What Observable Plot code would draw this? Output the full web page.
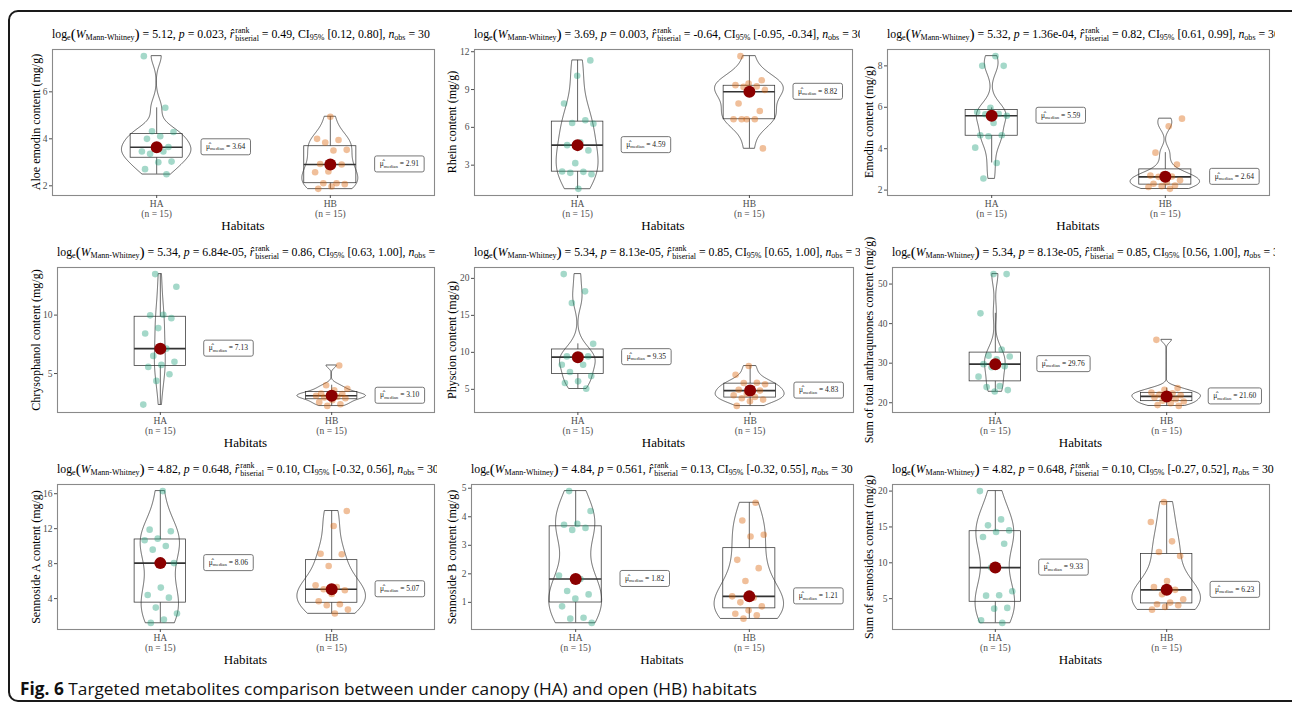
<!DOCTYPE html>
<html>
<head>
<meta charset="utf-8">
<script src="https://cdn.jsdelivr.net/npm/d3@7"></script>
<script src="https://cdn.jsdelivr.net/npm/@observablehq/plot@0.6"></script>
<style>
  html, body { margin: 0; padding: 0; background: #fff; }
  body { width: 1292px; height: 706px; position: relative; overflow: hidden; font-family: "Liberation Serif", serif; }
  #frame { position: absolute; left: 8px; top: 10px; width: 1300px; height: 692px; border: 2px solid #1a1a1a; border-radius: 10px; box-sizing: border-box; }
  .cell { position: absolute; }
  .title { position: absolute; white-space: nowrap; overflow: hidden; font-size: 11.8px; line-height: 22px; height: 24px; color: #000; }
  .title sub { font-size: 0.68em; vertical-align: -0.25em; line-height: 0; }
  .title .par { font-size: 1.3em; vertical-align: -0.05em; }
  .title .ss { display: inline-flex; flex-direction: column; vertical-align: middle; font-size: 0.68em; line-height: 1.0; margin-left: 1px; position: relative; top: -1px; }
  .ylab { position: absolute; white-space: nowrap; font-size: 12px; transform: translate(-50%, -50%) rotate(-90deg); }
  .xlab { position: absolute; white-space: nowrap; font-size: 13px; transform: translate(-50%, -50%); }
  #caption { position: absolute; left: 20px; top: 677px; font-family: "Open Sans", sans-serif; font-size: 17px; white-space: nowrap; color: #111; transform-origin: left center; }
</style>
</head>
<body>
<div id="frame"></div>
<div id="root"></div>
<div id="caption"><b>Fig. 6</b> Targeted metabolites comparison between under canopy (HA) and open (HB) habitats</div>
<script>
// ---- data (mg/g) ----
const groups = ["HA", "HB"];

const aloeHA  = [7.52, 5.32, 4.32, 4.29, 4.11, 4.00, 3.65, 3.64, 3.46, 3.46, 3.36, 3.03, 3.00, 2.71, 2.49];
const aloeHB  = [4.94, 4.00, 3.95, 3.84, 3.53, 3.50, 2.93, 2.91, 2.61, 2.58, 2.11, 2.11, 2.07, 1.97, 1.87];
const rheinHA = [11.31, 10.09, 7.89, 6.56, 6.35, 6.29, 4.81, 4.59, 4.17, 3.16, 2.50, 2.47, 2.39, 2.28, 1.12];
const rheinHB = [11.65, 9.74, 9.48, 9.35, 9.25, 9.21, 8.97, 8.82, 7.89, 7.30, 6.64, 6.64, 6.64, 6.64, 4.33];
const emodinHA = [8.47, 8.00, 8.00, 5.97, 5.77, 5.69, 5.66, 5.59, 5.24, 4.65, 4.65, 4.60, 4.05, 3.31, 2.56];
const emodinHB = [5.45, 5.08, 3.81, 3.24, 2.76, 2.70, 2.66, 2.64, 2.47, 2.38, 2.31, 2.22, 2.19, 2.15, 2.06];
const chrysHA = [13.51, 12.43, 10.03, 9.98, 9.74, 8.89, 8.43, 7.13, 6.51, 6.00, 5.74, 5.57, 4.94, 4.37, 2.34];
const chrysHB = [5.69, 4.00, 3.70, 3.57, 3.29, 3.25, 3.18, 3.10, 3.02, 2.95, 2.89, 2.71, 2.55, 2.37, 2.23];
const physHA  = [20.58, 18.25, 16.68, 11.15, 9.63, 9.45, 9.45, 9.35, 8.32, 8.32, 7.34, 6.80, 6.08, 5.86, 5.09];
const physHB  = [8.15, 6.98, 5.90, 5.86, 5.68, 5.15, 4.95, 4.83, 4.42, 4.20, 3.97, 3.80, 3.61, 3.39, 2.76];
const anthHA  = [52.52, 52.52, 42.60, 33.45, 31.90, 31.70, 31.00, 29.76, 29.20, 29.00, 26.60, 24.20, 23.95, 23.20, 22.86];
const anthHB  = [35.90, 23.70, 23.30, 22.60, 22.40, 22.10, 21.90, 21.60, 21.30, 20.90, 20.50, 20.30, 19.90, 19.40, 19.20];
const sennAHA = [16.30, 11.89, 11.70, 10.86, 10.67, 10.02, 9.60, 8.06, 5.26, 4.42, 4.11, 2.97, 2.29, 1.60, 1.22];
const sennAHB = [14.02, 12.30, 9.14, 9.07, 7.73, 5.52, 5.33, 5.07, 4.95, 4.53, 3.70, 3.35, 3.24, 2.74, 2.29];
const sennBHA = [4.90, 4.20, 3.75, 3.72, 3.61, 3.54, 1.94, 1.82, 1.40, 1.28, 1.13, 0.86, 0.46, 0.43, 0.28];
const sennBHB = [4.49, 3.87, 3.37, 3.31, 2.49, 2.20, 1.75, 1.21, 1.16, 1.00, 0.86, 0.72, 0.60, 0.55, 0.43];
const sumSHA  = [20.00, 16.05, 15.22, 14.52, 14.29, 13.59, 12.66, 9.33, 6.03, 5.47, 5.42, 3.71, 3.61, 1.99, 1.62];
const sumSHB  = [18.47, 15.68, 12.99, 11.50, 10.95, 7.47, 6.63, 6.23, 5.61, 4.91, 4.45, 4.22, 4.08, 3.85, 3.47];

const yLabels = ["Aloe emodin content (mg/g)", "Rhein content (mg/g)", "Emodin content (mg/g)",
  "Chrysophanol content (mg/g)", "Physcion content (mg/g)", "Sum of total anthraqunones content (mg/g)",
  "Sennoside A content (mg/g)", "Sennoside B content (mg/g)", "Sum of sennosides content (mg/g)"];
const yTicks = [[2, 4, 6], [3, 6, 9, 12], [2, 4, 6, 8], [5, 10], [5, 10, 15, 20], [20, 30, 40, 50],
  [4, 8, 12, 16], [1, 2, 3, 4, 5], [5, 10, 15, 20]];

const logW   = ["5.12", "3.69", "5.32", "5.34", "5.34", "5.34", "4.82", "4.84", "4.82"];
const pVal   = ["0.023", "0.003", "1.36e-04", "6.84e-05", "8.13e-05", "8.13e-05", "0.648", "0.561", "0.648"];
const rRank  = ["0.49", "-0.64", "0.82", "0.86", "0.85", "0.85", "0.10", "0.13", "0.10"];
const ciLow  = ["0.12", "-0.95", "0.61", "0.63", "0.65", "0.56", "-0.32", "-0.32", "-0.27"];
const ciHigh = ["0.80", "-0.34", "0.99", "1.00", "1.00", "1.00", "0.56", "0.55", "0.52"];

const seriesHA = [aloeHA, rheinHA, emodinHA, chrysHA, physHA, anthHA, sennAHA, sennBHA, sumSHA];
const seriesHB = [aloeHB, rheinHB, emodinHB, chrysHB, physHB, anthHB, sennAHB, sennBHB, sumSHB];

// ---- layout (panel frame pixel boxes) ----
const frames = [
  [52, 434, 49, 195], [474, 852, 49, 195], [887, 1269, 49, 195],
  [57, 434, 267, 412], [474, 853, 267, 412], [892, 1269, 267, 412],
  [57, 434, 484, 629], [471, 853, 484, 629], [892, 1269, 484, 629]
];
const colRight = [437, 860, 1275];
const ylabX = [36, 452, 869];

const colors = ["#1B9E77", "#D95F02"];
const ink = "#333333";

function jitter(i, k) {
  const u = ((i * 0.61803398875 + k * 0.37 + 0.13) % 1);
  return (u - 0.5) * 0.2;
}

function stats(arr, g) {
  const s = arr.slice().sort(d3.ascending);
  const q1 = d3.quantile(s, 0.25), q3 = d3.quantile(s, 0.75), med = d3.quantile(s, 0.5);
  const iqr = q3 - q1;
  const lo = d3.min(s.filter(v => v >= q1 - 1.5 * iqr));
  const hi = d3.max(s.filter(v => v <= q3 + 1.5 * iqr));
  return {g, q1, q3, med, lo, hi, n: arr.length};
}

function kde(arr) {
  const n = arr.length;
  const sd = d3.deviation(arr);
  const s = arr.slice().sort(d3.ascending);
  const iqr = d3.quantile(s, 0.75) - d3.quantile(s, 0.25);
  let lo = Math.min(sd, iqr / 1.34);
  if (!(lo > 0)) lo = sd || 1;
  const bw = 0.9 * lo * Math.pow(n, -0.2);
  const [mn, mx] = d3.extent(arr);
  const pts = [];
  const N = 200;
  for (let j = 0; j <= N; j++) {
    const y = mn + (mx - mn) * j / N;
    let d = 0;
    for (const v of arr) { const z = (y - v) / bw; d += Math.exp(-0.5 * z * z); }
    d = d / (n * bw * Math.sqrt(2 * Math.PI));
    pts.push({y, d});
  }
  return pts;
}

const root = document.getElementById("root");

function titleHTML(k, nobs) {
  return `log<sub>e</sub><span class="par">(</span><i>W</i><sub>Mann-Whitney</sub><span class="par">)</span> = ${logW[k]}, <i>p</i> = ${pVal[k]}, <i>r&#770;</i><span class="ss"><span>rank</span><span>biserial</span></span> = ${rRank[k]}, CI<sub>95%</sub> [${ciLow[k]}, ${ciHigh[k]}], <i>n</i><sub>obs</sub> = ${nobs}`;
}

for (let k = 0; k < 9; k++) {
  const ha = seriesHA[k], hb = seriesHB[k];
  const [fL, fR, fT, fB] = frames[k];
  const col = k % 3;
  const all = ha.concat(hb);
  const [mn, mx] = d3.extent(all);
  const rng = mx - mn;
  const ydom = [mn - 0.05 * rng, mx + 0.05 * rng];

  const pts = [];
  [ha, hb].forEach((arr, gi) => arr.forEach((v, i) => pts.push({g: gi + 1, v, x: gi + 1 + jitter(i, k * 2 + gi)})));
  const st = [stats(ha, 1), stats(hb, 2)];

  const dens = [kde(ha), kde(hb)];
  const dmax = d3.max(dens.flat(), d => d.d);
  const vdata = [];
  dens.forEach((arr, gi) => arr.forEach(p => {
    const w = 0.2 * p.d / dmax;
    vdata.push({g: gi + 1, y: p.y, x1: gi + 1 - w, x2: gi + 1 + w});
  }));

  const mL = 40, mT = 4, mR = 6, mB = 34;
  const W = fR - fL + mL + mR, H = fB - fT + mT + mB;

  const plot = Plot.plot({
    width: W, height: H,
    marginLeft: mL, marginTop: mT, marginRight: mR, marginBottom: mB,
    x: {domain: [0.4, 2.6]},
    y: {domain: ydom},
    style: {fontFamily: "'Liberation Serif', serif", background: "transparent", overflow: "visible"},
    marks: [
      Plot.frame({stroke: "#8a8a8a", strokeWidth: 1.1}),
      Plot.areaX(vdata, {y: "y", x1: "x1", x2: "x2", z: "g", fill: "none", stroke: ink, strokeWidth: 0.75, curve: "linear"}),
      Plot.ruleX(st, {x: "g", y1: "q3", y2: "hi", stroke: ink, strokeWidth: 0.75}),
      Plot.ruleX(st, {x: "g", y1: "lo", y2: "q1", stroke: ink, strokeWidth: 0.75}),
      Plot.rect(st, {x1: d => d.g - 0.15, x2: d => d.g + 0.15, y1: "q1", y2: "q3", fill: "none", stroke: ink, strokeWidth: 0.75}),
      Plot.ruleY(st, {y: "med", x1: d => d.g - 0.15, x2: d => d.g + 0.15, stroke: ink, strokeWidth: 1.6}),
      Plot.dot(pts.filter(d => d.g === 1), {x: "x", y: "v", r: 3.3, fill: colors[0], fillOpacity: 0.4, stroke: "none"}),
      Plot.dot(pts.filter(d => d.g === 2), {x: "x", y: "v", r: 3.3, fill: colors[1], fillOpacity: 0.4, stroke: "none"}),
      Plot.dot(st, {x: "g", y: "med", r: 6, fill: "#8B0000", stroke: "none"}),
      Plot.axisY({ticks: yTicks[k], tickFormat: d => String(d), tickSize: 3, tickPadding: 2, fontSize: 9.5, color: "#4d4d4d", label: null}),
      Plot.axisX({ticks: [1, 2], tickFormat: d => `${groups[d - 1]}\n(n = ${st[d - 1].n})`, tickSize: 3, tickPadding: 1, fontSize: 9.5, lineHeight: 1.05, color: "#4d4d4d", label: null})
    ]
  });

  const cell = document.createElement("div");
  cell.className = "cell";
  cell.style.left = (fL - mL) + "px";
  cell.style.top = (fT - mT) + "px";
  cell.appendChild(plot);
  root.appendChild(cell);

  // median labels via the plot's scales
  const sx = plot.scale("x"), sy = plot.scale("y");
  const svg = d3.select(plot);
  st.forEach(s => {
    const x = sx.apply(s.g + 0.4), y = sy.apply(s.med);
    const g = svg.append("g").attr("transform", `translate(${x},${y})`);
    const t = g.append("text").attr("text-anchor", "middle").attr("dy", "0.3em")
      .style("font-family", "'Liberation Serif', serif").style("font-size", "7.5px").attr("fill", "#222");
    t.append("tspan").text("\u03BC\u0302");
    t.append("tspan").attr("font-size", "4.8px").attr("dy", "1.4").text("median");
    t.append("tspan").attr("dy", "-1.4").text(" = " + s.med.toFixed(2));
    const bb = t.node().getBBox();
    g.insert("rect", "text").attr("x", bb.x - 5).attr("y", -8).attr("width", bb.width + 10).attr("height", 16)
      .attr("rx", 2).attr("fill", "white").attr("stroke", "#666").attr("stroke-width", 0.9);
  });

  // title
  const tdiv = document.createElement("div");
  tdiv.className = "title";
  tdiv.style.left = fL + "px";
  tdiv.style.top = (fT - 26) + "px";
  tdiv.style.width = (colRight[col] - fL) + "px";
  tdiv.innerHTML = titleHTML(k, ha.length + hb.length);
  root.appendChild(tdiv);

  // axis titles
  const yl = document.createElement("div");
  yl.className = "ylab";
  yl.style.left = ylabX[col] + "px";
  yl.style.top = ((fT + fB) / 2) + "px";
  yl.textContent = yLabels[k];
  root.appendChild(yl);

  const xl = document.createElement("div");
  xl.className = "xlab";
  xl.style.left = ((fL + fR) / 2) + "px";
  xl.style.top = (fB + 31) + "px";
  xl.textContent = "Habitats";
  root.appendChild(xl);
}

// fit caption to its width in the reference
const cap = document.getElementById("caption");
const cw = cap.getBoundingClientRect().width;
cap.style.transform = `scaleX(${737 / cw})`;
</script>
</body>
</html>
